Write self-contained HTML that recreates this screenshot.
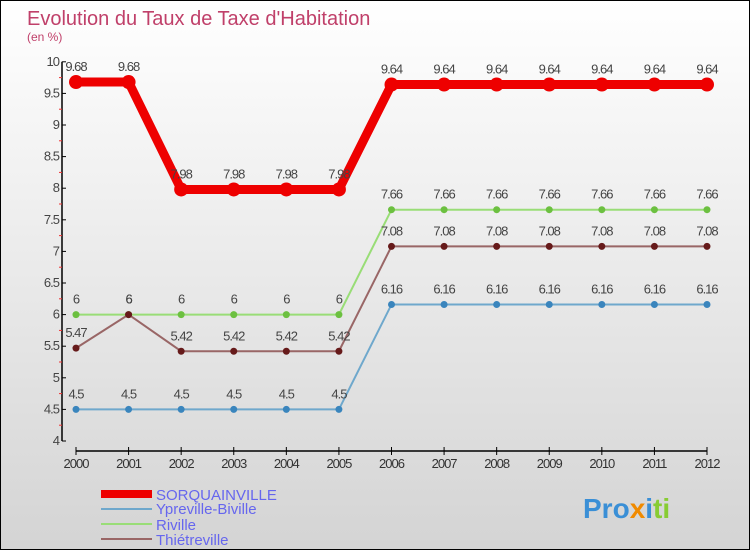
<!DOCTYPE html>
<html><head><meta charset="utf-8"><style>
body{margin:0}
#c{width:748px;height:548px;border:1px solid #000;background:linear-gradient(#ffffff,#d4d4d4);position:relative;font-family:"Liberation Sans",sans-serif;overflow:hidden}
</style></head><body>
<div id="c">
<svg id="s" width="748" height="548" style="position:absolute;left:0;top:0">
<text x="26" y="24" font-size="20" fill="#c0406a">Evolution du Taux de Taxe d'Habitation</text>
<text x="26" y="40" font-size="12" fill="#c0406a">(en %)</text>
<g id="axes"></g><g id="series"></g>
<g>
<rect x="100" y="489" width="51" height="8" fill="#e00"/>
<text x="155" y="499" font-size="15" fill="#6666ee">SORQUAINVILLE</text>
<rect x="100" y="507" width="51" height="2" fill="#6fa8cc"/>
<text x="155" y="513" font-size="15" fill="#6666ee">Ypreville-Biville</text>
<rect x="100" y="522" width="51" height="2" fill="#99dd77"/>
<text x="155" y="529" font-size="15" fill="#6666ee">Riville</text>
<rect x="100" y="537" width="51" height="2" fill="#996666"/>
<text x="155" y="544" font-size="15" fill="#6666ee">Thiétreville</text>
</g>
<text x="582" y="517" font-size="28" font-weight="bold"><tspan fill="#3a8fd6">Pro</tspan><tspan fill="#f08a00">x</tspan><tspan fill="#3a8fd6">i</tspan><tspan fill="#88cc33">ti</tspan></text>
</svg>
</div>
<script>
const years=[2000,2001,2002,2003,2004,2005,2006,2007,2008,2009,2010,2011,2012];
const sorq=[9.68,9.68,7.98,7.98,7.98,7.98,9.64,9.64,9.64,9.64,9.64,9.64,9.64];
const ypre=[4.5,4.5,4.5,4.5,4.5,4.5,6.16,6.16,6.16,6.16,6.16,6.16,6.16];
const rivi=[6,6,6,6,6,6,7.66,7.66,7.66,7.66,7.66,7.66,7.66];
const thie=[5.47,6,5.42,5.42,5.42,5.42,7.08,7.08,7.08,7.08,7.08,7.08,7.08];
const yTicks=[4,4.5,5,5.5,6,6.5,7,7.5,8,8.5,9,9.5,10];
const NS="http://www.w3.org/2000/svg";
const X=i=>75+i*(631/12), Y=v=>440-(v-4)*63.2;
function mk(t,a,p){const e=document.createElementNS(NS,t);for(const k in a)e.setAttribute(k,a[k]);p.appendChild(e);return e;}
const ax=document.getElementById('axes'), sg=document.getElementById('series');
let l=mk('line',{x1:61,y1:Y(10),x2:61,y2:Y(4),stroke:'#000','stroke-width':1.5},ax);


yTicks.forEach((v,i)=>{
 let t=mk('line',{x1:61,y1:Y(v),x2:65,y2:Y(v),stroke:'#000'},ax);
 
 
 let tx=mk('text',{x:58,y:Y(v)+4,'text-anchor':'end','font-size':13,fill:'#444','letter-spacing':'-1'},ax);tx.textContent=v;
 
 
 if(i<yTicks.length-1){let m=mk('line',{x1:58,y1:Y(v+0.25),x2:61,y2:Y(v+0.25),stroke:'#e33'},ax);
 
 }
});
l=mk('line',{x1:X(0),y1:450,x2:X(12),y2:450,stroke:'#000','stroke-width':1.5},ax);


years.forEach((y,i)=>{
 let t=mk('line',{x1:X(i),y1:446,x2:X(i),y2:454,stroke:'#000'},ax);
 
 
 let tx=mk('text',{x:X(i),y:467,'text-anchor':'middle','font-size':13,fill:'#333','letter-spacing':'-1'},ax);tx.textContent=y;
 
 
});
function series(vals,color,dot,w,r,name){
 const g=mk('g',{},sg);
 
 
 let p=mk('polyline',{points:vals.map((v,i)=>X(i)+','+Y(v)).join(' '),fill:'none',stroke:color,'stroke-width':w},g);
 
 
 vals.forEach((v,i)=>{
  let c=mk('circle',{cx:X(i),cy:Y(v),r:r,fill:dot},g);
  
  
  let tx=mk('text',{x:X(i),y:Y(v)-11,'text-anchor':'middle','font-size':13,fill:'#444','letter-spacing':'-1'},g);tx.textContent=v;
  
  
 });
}
series(ypre,'#6fa8cc','#3a85bd',2,3.5,'ypreville');
series(rivi,'#99dd77','#6cc040',2,3.5,'riville');
series(thie,'#996666','#661a1a',2,3.5,'thietreville');
series(sorq,'#ee0000','#ee0000',9,7,'sorquainville');
</script>
</body></html>
